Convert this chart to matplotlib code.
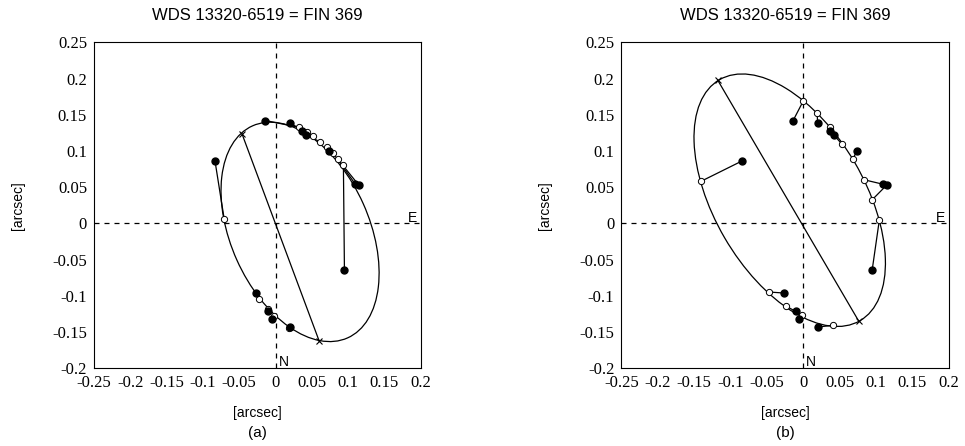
import numpy as np
import matplotlib.pyplot as plt
from matplotlib.patches import Ellipse

# observed positions (filled dots), same in both panels
obs_x = [-0.0138, 0.0198, 0.0367, 0.0422, 0.0734, 0.1100, 0.1147, 0.0949,
         -0.0834, -0.0265, -0.0105, -0.0055, 0.0198]
obs_y = [0.1420, 0.1380, 0.1280, 0.1220, 0.0997, 0.0540, 0.0528, -0.0639,
         0.0865, -0.0961, -0.1214, -0.1315, -0.1430]

# predicted positions (open circles), panel (a)
pred_a_x = [0.0330, 0.0436, 0.0523, 0.0615, 0.0707, 0.0790, 0.0858, 0.0935,
            -0.0706, -0.0234, -0.0110, -0.0020, 0.0186]
pred_a_y = [0.1324, 0.1264, 0.1200, 0.1126, 0.1053, 0.0975, 0.0887, 0.0800,
            0.0055, -0.1050, -0.1177, -0.1275, -0.1450]

# predicted positions (open circles), panel (b)
pred_b_x = [0.0000, 0.0193, 0.0367, 0.0528, 0.0688, 0.0835, 0.0949, 0.1046,
            -0.1398, -0.0468, -0.0238, -0.0018, 0.0413]
pred_b_y = [0.1687, 0.1521, 0.1328, 0.1100, 0.0894, 0.0603, 0.0327, 0.0041,
            0.0584, -0.0947, -0.1140, -0.1269, -0.1407]

# line of nodes end points
nodes_a_x = [-0.0462, 0.0600]
nodes_a_y = [0.1237, -0.1620]
nodes_b_x = [-0.1176, 0.0761]
nodes_b_y = [0.1980, -0.1344]

# apparent orbit: centre, full width, full height, angle (deg)
orbit_a = ((0.0338, -0.0117), 0.3206, 0.1906, -65.9)
orbit_b = ((-0.0185, 0.0320), 0.3846, 0.2068, -59.9)

ticks = [-0.25, -0.2, -0.15, -0.1, -0.05, 0, 0.05, 0.1, 0.15, 0.2, 0.25]
tick_labels = ['-0.25', '-0.2', '-0.15', '-0.1', '-0.05', '0', '0.05',
               '0.1', '0.15', '0.2', '0.25']

title = 'WDS 13320-6519 = FIN 369'

fig = plt.figure(figsize=(9.65, 4.46), dpi=100)


def draw_panel(ax, orbit, nx, ny, px, py, tag):
    (cx, cy), w, h, ang = orbit
    ax.add_patch(Ellipse((cx, cy), w, h, angle=ang, fill=False,
                         edgecolor='black', lw=0.9, zorder=2))
    ax.axhline(0, color='black', lw=0.9, ls=(0, (4, 4)), zorder=1)
    ax.axvline(0, color='black', lw=0.9, ls=(0, (4, 4)), zorder=1)
    ax.plot(nx, ny, color='black', lw=0.9, marker='x', ms=4, mew=0.8,
            zorder=3)
    for ox, oy, qx, qy in zip(obs_x, obs_y, px, py):
        ax.plot([ox, qx], [oy, qy], color='black', lw=0.9, zorder=3)
    ax.plot(px, py, ls='none', marker='o', ms=4.5, mfc='white',
            mec='black', mew=0.7, zorder=4)
    ax.plot(obs_x, obs_y, ls='none', marker='o', ms=5, color='black',
            zorder=5)

    ax.set_xlim(-0.25, 0.2)
    ax.set_ylim(-0.2, 0.25)
    ax.set_xticks(ticks[:-1])
    ax.set_xticklabels(tick_labels[:-1], family='Liberation Serif',
                       fontsize=12)
    ax.set_yticks(ticks[1:])
    ax.set_yticklabels(tick_labels[1:], family='Liberation Serif',
                       fontsize=12)
    ax.tick_params(length=0, pad=5)
    for s in ax.spines.values():
        s.set_linewidth(0.8)

    ax.text(0.189, 0.008, 'E', family='Liberation Sans', fontsize=10,
            ha='center', va='center')
    ax.text(0.011, -0.191, 'N', family='Liberation Sans', fontsize=10,
            ha='center', va='center')

    ax.text(0.5, 1.081, title, transform=ax.transAxes, ha='center',
            va='center', family='Liberation Sans', fontsize=12)
    ax.text(0.5, -0.137, '[arcsec]', transform=ax.transAxes, ha='center',
            va='center', family='Liberation Sans', fontsize=10)
    ax.text(0.5, -0.198, tag, transform=ax.transAxes, ha='center',
            va='center', family='Liberation Sans', fontsize=11)
    ax.text(-0.234, 0.5, '[arcsec]', transform=ax.transAxes, ha='center',
            va='center', rotation=90, family='Liberation Sans', fontsize=10)


ax1 = fig.add_axes([0.0974, 0.1742, 0.3386, 0.731])
ax2 = fig.add_axes([0.6438, 0.1742, 0.3393, 0.731])

draw_panel(ax1, orbit_a, nodes_a_x, nodes_a_y, pred_a_x, pred_a_y, '(a)')
draw_panel(ax2, orbit_b, nodes_b_x, nodes_b_y, pred_b_x, pred_b_y, '(b)')

fig.savefig('out.png', dpi=100)
